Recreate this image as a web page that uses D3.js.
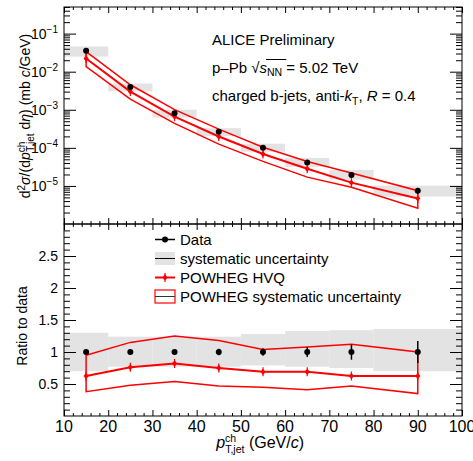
<!DOCTYPE html>
<meta charset="utf-8">
<html>
<head>
<script src="https://d3js.org/d3.v7.min.js"></script>
<style>
  body { margin: 0; background: white; }
  text { font-family: "Liberation Sans", Arial, sans-serif; fill: black; }
</style>
</head>
<body>
<div id="chart"></div>
<script>
// bins in pT (GeV/c)
const ptCenters = [15, 25, 35, 45, 55, 65, 75, 90];
const binLow    = [10, 20, 30, 40, 50, 60, 70, 80];
const binHigh   = [20, 30, 40, 50, 60, 70, 80, 100];

// measured cross section (mb c/GeV) with relative uncertainties
const dataXsec   = [3.55e-2, 3.95e-3, 8.1e-4, 2.65e-4, 1.0e-4, 4.1e-5, 1.95e-5, 7.5e-6];
const dataStat   = [0.01, 0.01, 0.01, 0.05, 0.06, 0.08, 0.12, 0.17];
const dataSysUp  = [1.30, 1.24, 1.24, 1.24, 1.28, 1.33, 1.34, 1.36];
const dataSysLow = [0.70, 0.77, 0.77, 0.77, 0.79, 0.77, 0.75, 0.70];

// POWHEG HVQ prediction
const powhegXsec = [2.22e-2, 3.0e-3, 6.6e-4, 1.99e-4, 6.9e-5, 2.83e-5, 1.22e-5, 4.7e-6];
const powhegUp   = [3.37e-2, 4.54e-3, 1.01e-3, 3.1e-4, 1.04e-4, 4.4e-5, 2.18e-5, 7.5e-6];
const powhegLow  = [1.35e-2, 1.9e-3, 4.4e-4, 1.25e-4, 4.4e-5, 1.7e-5, 9.2e-6, 2.6e-6];

// ratio to data
const ratioData      = [1, 1, 1, 1, 1, 1, 1, 1];
const ratioPowheg    = [0.625, 0.76, 0.82, 0.75, 0.69, 0.69, 0.625, 0.625];
const ratioPowhegUp  = [0.95, 1.15, 1.25, 1.18, 1.04, 1.08, 1.12, 1.0];
const ratioPowhegLow = [0.38, 0.48, 0.54, 0.47, 0.45, 0.41, 0.47, 0.35];

// axis ticks
const xMajor = [10, 20, 30, 40, 50, 60, 70, 80, 90, 100];
const logMajor = [1e-5, 1e-4, 1e-3, 1e-2, 1e-1];
const logLabels = ["−5", "−4", "−3", "−2", "−1"];
const ratioMajor = [0.5, 1, 1.5, 2, 2.5];

const W = 473, H = 461;
const left = 64, right = 462, topY = 7, midY = 224, botY = 416;
const red = "#ff0000", grey = "#e3e3e3";

const svg = d3.select("#chart").append("svg")
    .attr("width", W).attr("height", H);

const x = d3.scaleLinear().domain([10, 100]).range([left, right]);
const yTop = d3.scaleLog().domain([1e-6, 0.5]).range([midY, topY]);
const yRat = d3.scaleLinear().domain([0, 3]).range([botY, midY]);

// minor tick values
const xMinor = d3.range(12, 100, 2).filter(v => v % 10 != 0);
const logMinor = [];
for (let e = -6; e <= -1; e++) {
    for (let k = 2; k <= 9; k++) {
        const v = k * Math.pow(10, e);
        if (v <= 0.5) logMinor.push(v);
    }
}
const ratioMinor = d3.range(1, 30).map(v => v / 10).filter(v => Math.round(v * 10) % 5 != 0);

function ticks(axisFn, scale, vals, size, tx, ty) {
    const g = svg.append("g")
        .attr("transform", "translate(" + tx + "," + ty + ")")
        .call(axisFn(scale).tickValues(vals).tickSize(size).tickFormat(""));
    g.select(".domain").remove();
    g.selectAll("line").attr("stroke", "black");
}

// ----- top panel -----
const pt = ptCenters.map((d, i) => i);

// data systematic boxes
svg.append("g").selectAll("rect").data(pt).enter().append("rect")
    .attr("x", i => x(binLow[i]))
    .attr("width", i => x(binHigh[i]) - x(binLow[i]))
    .attr("y", i => yTop(dataXsec[i] * dataSysUp[i]))
    .attr("height", i => yTop(dataXsec[i] * dataSysLow[i]) - yTop(dataXsec[i] * dataSysUp[i]))
    .attr("fill", grey);

// POWHEG band outline
const bandTop = pt.map(i => [x(ptCenters[i]), yTop(powhegUp[i])])
    .concat(pt.slice().reverse().map(i => [x(ptCenters[i]), yTop(powhegLow[i])]));
svg.append("path")
    .attr("d", d3.line()(bandTop) + "Z")
    .attr("fill", "none").attr("stroke", red).attr("stroke-width", 1.5);

svg.append("path")
    .attr("d", d3.line().x(i => x(ptCenters[i])).y(i => yTop(powhegXsec[i]))(pt))
    .attr("fill", "none").attr("stroke", red).attr("stroke-width", 2);

function redMarker(g, cx, cy) {
    g.append("path")
        .attr("d", "M" + cx + "," + (cy - 3.2) + "L" + (cx + 2.6) + "," + cy + "L" + cx + "," + (cy + 3.2) + "L" + (cx - 2.6) + "," + cy + "Z")
        .attr("fill", red);
    g.append("line").attr("x1", cx).attr("x2", cx).attr("y1", cy - 4.5).attr("y2", cy + 4.5)
        .attr("stroke", red).attr("stroke-width", 1.2);
}
const gTopMk = svg.append("g");
pt.forEach(i => redMarker(gTopMk, x(ptCenters[i]), yTop(powhegXsec[i])));

// data points
svg.append("g").selectAll("line").data(pt).enter().append("line")
    .attr("x1", i => x(ptCenters[i])).attr("x2", i => x(ptCenters[i]))
    .attr("y1", i => yTop(dataXsec[i] * (1 + dataStat[i])))
    .attr("y2", i => yTop(dataXsec[i] * (1 - dataStat[i])))
    .attr("stroke", "black").attr("stroke-width", 1.5);
svg.append("g").selectAll("circle").data(pt).enter().append("circle")
    .attr("cx", i => x(ptCenters[i])).attr("cy", i => yTop(dataXsec[i]))
    .attr("r", 3).attr("fill", "black");

// ----- ratio panel -----
svg.append("g").selectAll("rect").data(pt).enter().append("rect")
    .attr("x", i => x(binLow[i]))
    .attr("width", i => x(binHigh[i]) - x(binLow[i]))
    .attr("y", i => yRat(dataSysUp[i]))
    .attr("height", i => yRat(dataSysLow[i]) - yRat(dataSysUp[i]))
    .attr("fill", grey);

const bandRat = pt.map(i => [x(ptCenters[i]), yRat(ratioPowhegUp[i])])
    .concat(pt.slice().reverse().map(i => [x(ptCenters[i]), yRat(ratioPowhegLow[i])]));
svg.append("path")
    .attr("d", d3.line()(bandRat) + "Z")
    .attr("fill", "none").attr("stroke", red).attr("stroke-width", 1.5);

svg.append("path")
    .attr("d", d3.line().x(i => x(ptCenters[i])).y(i => yRat(ratioPowheg[i]))(pt))
    .attr("fill", "none").attr("stroke", red).attr("stroke-width", 2);
const gRatMk = svg.append("g");
pt.forEach(i => redMarker(gRatMk, x(ptCenters[i]), yRat(ratioPowheg[i])));

svg.append("g").selectAll("line").data(pt).enter().append("line")
    .attr("x1", i => x(ptCenters[i])).attr("x2", i => x(ptCenters[i]))
    .attr("y1", i => yRat(ratioData[i] + dataStat[i]))
    .attr("y2", i => yRat(ratioData[i] - dataStat[i]))
    .attr("stroke", "black").attr("stroke-width", 1.5);
svg.append("g").selectAll("circle").data(pt).enter().append("circle")
    .attr("cx", i => x(ptCenters[i])).attr("cy", i => yRat(ratioData[i]))
    .attr("r", 3).attr("fill", "black");

// ----- frames and ticks -----
svg.append("rect").attr("x", left).attr("y", topY)
    .attr("width", right - left).attr("height", midY - topY)
    .attr("fill", "none").attr("stroke", "black");
svg.append("rect").attr("x", left).attr("y", midY)
    .attr("width", right - left).attr("height", botY - midY)
    .attr("fill", "none").attr("stroke", "black");

// top panel
ticks(d3.axisRight, yTop, logMajor, 12, left, 0);
ticks(d3.axisRight, yTop, logMinor, 6, left, 0);
ticks(d3.axisLeft, yTop, logMajor, 12, right, 0);
ticks(d3.axisLeft, yTop, logMinor, 6, right, 0);
ticks(d3.axisTop, x, xMajor, 6, 0, midY);
ticks(d3.axisTop, x, xMinor, 3, 0, midY);
ticks(d3.axisBottom, x, xMajor, 6, 0, topY);
ticks(d3.axisBottom, x, xMinor, 3, 0, topY);
// ratio panel
ticks(d3.axisRight, yRat, ratioMajor, 12, left, 0);
ticks(d3.axisRight, yRat, ratioMinor, 6, left, 0);
ticks(d3.axisLeft, yRat, ratioMajor, 12, right, 0);
ticks(d3.axisLeft, yRat, ratioMinor, 6, right, 0);
ticks(d3.axisTop, x, xMajor, 6, 0, botY);
ticks(d3.axisTop, x, xMinor, 3, 0, botY);
ticks(d3.axisBottom, x, xMajor, 6, 0, midY);
ticks(d3.axisBottom, x, xMinor, 3, 0, midY);

// tick labels
const gLog = svg.append("g");
logMajor.forEach((v, i) => {
    const t = gLog.append("text").attr("x", 58).attr("y", yTop(v) + 5)
        .attr("text-anchor", "end").style("font-size", "14px");
    t.append("tspan").text("10");
    t.append("tspan").attr("dy", -6).style("font-size", "10px").text(logLabels[i]);
});
svg.append("g").selectAll("text").data(ratioMajor).enter().append("text")
    .attr("x", 58).attr("y", d => yRat(d) + 5)
    .attr("text-anchor", "end").style("font-size", "14px")
    .text(d => d);
svg.append("g").selectAll("text").data(xMajor).enter().append("text")
    .attr("x", d => x(d)).attr("y", 432)
    .attr("text-anchor", "middle").style("font-size", "16px")
    .text(d => d);

// axis titles
const yt = svg.append("text")
    .attr("transform", "translate(30,116) rotate(-90)")
    .attr("text-anchor", "middle").style("font-size", "14px");
yt.append("tspan").text("d");
yt.append("tspan").attr("dy", -5).style("font-size", "10px").text("2");
yt.append("tspan").attr("dy", 5).style("font-style", "italic").text("σ");
yt.append("tspan").text("/(d");
yt.append("tspan").style("font-style", "italic").text("p");
yt.append("tspan").attr("dy", -5).style("font-size", "10px").text("ch");
yt.append("tspan").attr("dx", -10).attr("dy", 9).style("font-size", "10px").text("T,jet");
yt.append("tspan").attr("dy", -4).text(" d");
yt.append("tspan").style("font-style", "italic").text("η");
yt.append("tspan").text(") (mb ");
yt.append("tspan").style("font-style", "italic").text("c");
yt.append("tspan").text("/GeV)");

svg.append("text")
    .attr("transform", "translate(27,326) rotate(-90)")
    .attr("text-anchor", "middle").style("font-size", "14px")
    .text("Ratio to data");

const xt = svg.append("text").attr("x", 304).attr("y", 448)
    .attr("text-anchor", "end").style("font-size", "16px");
xt.append("tspan").style("font-style", "italic").text("p");
xt.append("tspan").attr("dy", -6).style("font-size", "10.5px").text("ch");
xt.append("tspan").attr("dx", -11).attr("dy", 11).style("font-size", "10.5px").text("T,jet");
xt.append("tspan").attr("dy", -5).text(" (GeV/");
xt.append("tspan").style("font-style", "italic").text("c");
xt.append("tspan").text(")");

// annotations
svg.append("text").attr("x", 212).attr("y", 45).style("font-size", "15px")
    .text("ALICE Preliminary");
const t2 = svg.append("text").attr("x", 212).attr("y", 73).style("font-size", "15px");
t2.append("tspan").text("p–Pb  √");
t2.append("tspan").style("font-style", "italic").text("s");
t2.append("tspan").attr("dy", 3).style("font-size", "10.5px").text("NN");
t2.append("tspan").attr("dy", -3).text(" = 5.02 TeV");
const n0 = "p–Pb  ".length;
const e1 = t2.node().getExtentOfChar(n0);
const e2 = t2.node().getExtentOfChar(n0 + 3);
svg.append("line").attr("x1", e1.x + e1.width - 1).attr("x2", e2.x + e2.width)
    .attr("y1", 59.5).attr("y2", 59.5).attr("stroke", "black").attr("stroke-width", 1);

const t3 = svg.append("text").attr("x", 212).attr("y", 101).style("font-size", "15px");
t3.append("tspan").text("charged b-jets, anti-");
t3.append("tspan").style("font-style", "italic").text("k");
t3.append("tspan").attr("dy", 4).style("font-size", "10.5px").text("T");
t3.append("tspan").attr("dy", -4).text(", ");
t3.append("tspan").style("font-style", "italic").text("R");
t3.append("tspan").text(" = 0.4");

// legend
const legY = [239.5, 258.5, 277.5, 296.5];
const lg = svg.append("g");
lg.append("line").attr("x1", 155).attr("x2", 175).attr("y1", legY[0]).attr("y2", legY[0])
    .attr("stroke", "black").attr("stroke-width", 1.5);
lg.append("circle").attr("cx", 165).attr("cy", legY[0]).attr("r", 3).attr("fill", "black");
lg.append("rect").attr("x", 155).attr("y", legY[1] - 6.5).attr("width", 20).attr("height", 13)
    .attr("fill", grey);
lg.append("line").attr("x1", 155).attr("x2", 175).attr("y1", legY[1]).attr("y2", legY[1])
    .attr("stroke", "black").attr("stroke-width", 1);
lg.append("line").attr("x1", 155).attr("x2", 175).attr("y1", legY[2]).attr("y2", legY[2])
    .attr("stroke", red).attr("stroke-width", 2);
redMarker(lg, 165, legY[2]);
lg.append("rect").attr("x", 155).attr("y", legY[3] - 6.5).attr("width", 20).attr("height", 13)
    .attr("fill", "none").attr("stroke", red).attr("stroke-width", 1.2);
lg.append("line").attr("x1", 155).attr("x2", 175).attr("y1", legY[3]).attr("y2", legY[3])
    .attr("stroke", "#333").attr("stroke-width", 1);
const legText = ["Data", "systematic uncertainty", "POWHEG HVQ", "POWHEG systematic uncertainty"];
lg.selectAll("text").data(legText).enter().append("text")
    .attr("x", 180).attr("y", (d, i) => legY[i] + 5.5)
    .style("font-size", "15px").text(d => d);
</script>
</body>
</html>
